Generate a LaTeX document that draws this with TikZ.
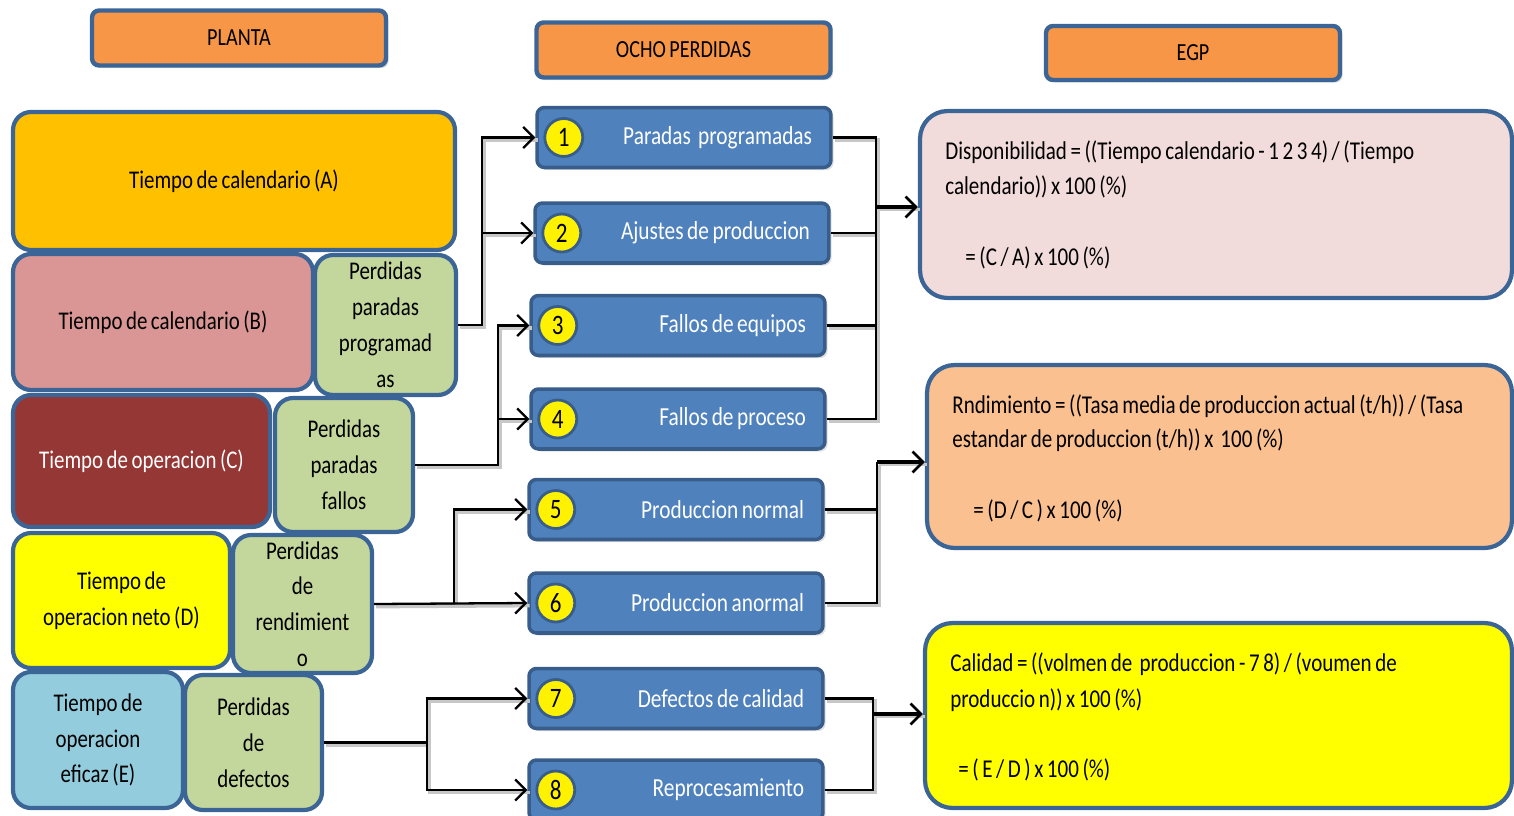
\documentclass[tikz,border=0pt]{standalone}
\usepackage{fontspec}
\setmainfont{Carlito}[FakeStretch=0.82,WordSpace=0.75]
\usetikzlibrary{arrows.meta,shadows}

\definecolor{bordc}{HTML}{3C6597}
\definecolor{hdrfill}{HTML}{F79646}
\definecolor{midfill}{HTML}{4F81BD}
\definecolor{midbord}{HTML}{385D8A}
\definecolor{greenfill}{HTML}{C3D69B}
\definecolor{afill}{HTML}{FFC000}
\definecolor{bfill}{HTML}{D99694}
\definecolor{cfill}{HTML}{953735}
\definecolor{dfill}{HTML}{FFFF00}
\definecolor{efill}{HTML}{93CDDD}
\definecolor{dispfill}{HTML}{F2DCDB}
\definecolor{rendfill}{HTML}{FAC090}

\tikzset{
  hdr/.style={draw=bordc, fill=hdrfill, line width=2.5pt, rounded corners=4pt,
    minimum width=5.88cm, minimum height=1.1cm, font=\fontsize{14}{17}\selectfont,
    drop shadow={opacity=0.25, shadow xshift=1.5pt, shadow yshift=-1.5pt}},
  plant/.style={draw=bordc, line width=2.4pt, rounded corners=0.36cm, align=center,
    font=\fontsize{14.5}{20.4}\selectfont, inner sep=2pt},
  loss/.style={plant, fill=greenfill},
  mid/.style={draw=midbord, fill=midfill, line width=2pt, rounded corners=0.15cm,
    minimum width=5.88cm, minimum height=1.2cm, inner xsep=0.38cm, text width=5.12cm,
    align=flush right, text=white, font=\fontsize{14.8}{17}\selectfont,
    drop shadow={opacity=0.25, shadow xshift=1.5pt, shadow yshift=-1.5pt}},
  numc/.style={circle, draw=midbord, line width=1.6pt, fill=yellow, minimum size=0.76cm,
    inner sep=0pt, font=\fontsize{16}{18}\selectfont},
  egp/.style={draw=bordc, line width=2.4pt, rounded corners=0.55cm},
  ftxt/.style={anchor=west, inner sep=0pt, font=\fontsize{14.6}{17}\selectfont},
  lineshadow/.style={preaction={draw=black!22, line width=2pt, -,
    transform canvas={shift={(1.3pt,-1.5pt)}}}},
  link/.style={line width=1.3pt, lineshadow},
  conn/.style={line width=1.3pt, lineshadow,
    -{Straight Barb[length=6pt,width=12pt,line width=1.3pt]}},
  bigconn/.style={line width=2.2pt, lineshadow,
    -{Straight Barb[length=6pt,width=12pt,line width=1.5pt]}}
}

\begin{document}
\begin{tikzpicture}[x=0.02cm, y=-0.02cm]
\useasboundingbox (0,0) rectangle (1514,815);

% column headers
\node[hdr] (hplanta) at (239,38) {PLANTA};
\node[hdr] (hocho) at (683.5,50) {OCHO PERDIDAS};
\node[hdr, minimum height=1.08cm] (hegp) at (1193,53) {EGP};

% plant time blocks and their losses
\node[plant, fill=afill, minimum width=8.84cm, minimum height=2.76cm] (ta) at (234,181) {Tiempo de calendario (A)};
\node[plant, fill=bfill, minimum width=6.0cm, minimum height=2.72cm] (tb) at (163,322) {Tiempo de calendario (B)};
\node[loss, minimum width=2.82cm, minimum height=2.8cm] (ppp) at (385.5,325) {Perdidas\\paradas\\programad\\as};
\node[plant, fill=cfill, text=white, minimum width=5.14cm, minimum height=2.64cm] (tc) at (141.5,461) {Tiempo de operacion (C)};
\node[loss, minimum width=2.76cm, minimum height=2.68cm] (ppf) at (344,465) {Perdidas\\paradas\\fallos};
\node[plant, fill=dfill, minimum width=4.34cm, minimum height=2.7cm] (td) at (121.5,600.5) {Tiempo de\\operacion neto (D)};
\node[loss, minimum width=2.78cm, minimum height=2.76cm] (pr) at (302.5,604) {Perdidas\\de\\rendimient\\o};
\node[plant, fill=efill, minimum width=3.4cm, minimum height=2.72cm] (te) at (98,740) {Tiempo de\\operacion\\eficaz (E)};
\node[loss, minimum width=2.74cm, minimum height=2.7cm] (pd) at (253.5,742.5) {Perdidas\\de\\defectos};

% the eight losses
\node[mid] (m1) at (684,137.5) {Paradas\ \ programadas};
\node[mid] (m2) at (682,233) {Ajustes de produccion};
\node[mid] (m3) at (678,325.5) {Fallos de\ equipos};
\node[mid] (m4) at (678,419) {Fallos de proceso};
\node[mid] (m5) at (676,509.5) {Produccion normal};
\node[mid] (m6) at (676,603) {Produccion anormal};
\node[mid] (m7) at (676,698.5) {Defectos de calidad};
\node[mid] (m8) at (676,790) {Reprocesamiento};
\foreach \i in {1,...,8} {
  \node[numc] (n\i) at ([xshift=0.57cm]m\i.west) {\i};
}

% EGP indicators
\node[egp, fill=dispfill, minimum width=11.84cm, minimum height=3.74cm] (disp) at (1216,204.5) {};
\node[ftxt] (disp1) at (945,152) {Disponibilidad = ((Tiempo calendario - 1 2 3 4) / (Tiempo};
\node[ftxt] (disp2) at (945,187) {calendario)) x 100 (\%)};
\node[ftxt] (disp3) at (965,258) {= (C / A) x 100 (\%)};

\node[egp, fill=rendfill, minimum width=11.7cm, minimum height=3.66cm] (rend) at (1219.5,456.5) {};
\node[ftxt] (rend1) at (952,406) {Rndimiento = ((Tasa media de produccion actual (t/h)) / (Tasa};
\node[ftxt] (rend2) at (952,440) {estandar de produccion (t/h)) x\ \ 100 (\%)};
\node[ftxt] (rend3) at (973,511) {= (D / C ) x 100 (\%)};

\node[egp, fill=dfill, minimum width=11.74cm, minimum height=3.7cm] (cal) at (1218.5,715.5) {};
\node[ftxt] (cal1) at (950,664) {Calidad = ((volmen de\ \ produccion - 7 8) / (voumen de};
\node[ftxt] (cal2) at (950,700) {produccio n)) x 100 (\%)};
\node[ftxt] (cal3) at (958,770) {= ( E / D ) x 100 (\%)};

% losses -> eight losses
\draw[conn] (ppp.east) -- ++(24,0) |- (m1.west);
\draw[conn] (ppp.east) -- ++(24,0) |- (m2.west);
\draw[conn] (ppf.east) -- ++(83,0) |- (m3.west);
\draw[conn] (ppf.east) -- ++(83,0) |- (m4.west);
\draw[conn] (pr.east) -- ++(80,0) |- (m5.west);
\draw[conn] (pr.east) -- (m6.west);
\draw[conn] (pd.east) -- ++(103,0) |- (m7.west);
\draw[conn] (pd.east) -- ++(103,0) |- (m8.west);

% eight losses -> indicators
\coordinate (j1) at (876,207);
\coordinate (j2) at (877,462);
\coordinate (j3) at (873,714);
\foreach \i in {1,...,4} { \draw[link] (m\i.east) -| (j1); }
\foreach \i in {5,6} { \draw[link] (m\i.east) -| (j2); }
\foreach \i in {7,8} { \draw[link] (m\i.east) -| (j3); }
\draw[bigconn] (j1) -- (disp.west |- j1);
\draw[bigconn] (j2) -- (rend.west |- j2);
\draw[bigconn] (j3) -- (cal.west |- j3);
\end{tikzpicture}
\end{document}
